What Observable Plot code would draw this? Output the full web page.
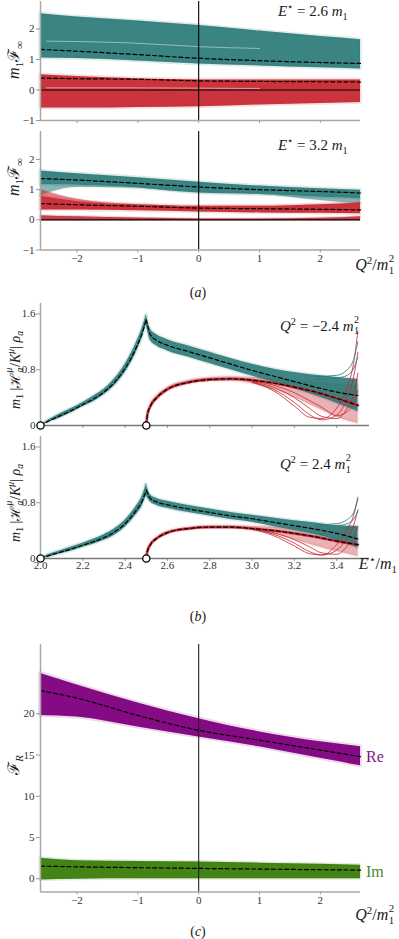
<!DOCTYPE html>
<html>
<head>
<meta charset="utf-8">
<script src="https://cdn.jsdelivr.net/npm/d3@7"></script>
<script src="https://cdn.jsdelivr.net/npm/@observablehq/plot@0.6"></script>
<style>
html,body{margin:0;padding:0;background:#fff;}
#root{position:relative;width:399px;height:939px;overflow:hidden;font-family:"Liberation Serif","DejaVu Serif",serif;color:#1a1a1a;}
.p{position:absolute;left:0;}
.p svg{display:block;overflow:visible;}
.p svg, .p svg text{font-family:"Liberation Serif","DejaVu Serif",serif !important;}
.t{position:absolute;white-space:nowrap;line-height:1;font-family:"Liberation Serif","DejaVu Serif",serif;}
.rot{transform:translate(-50%,-50%) rotate(-90deg);}
.ctr{transform:translate(-50%,-50%);}
sub,sup{font-size:0.68em;line-height:0;}
.ss{display:inline-block;position:relative;width:0.42em;height:1em;vertical-align:baseline;}
.ss .up,.ss .dn{position:absolute;left:0.04em;font-size:0.68em;line-height:1;}
.ss .up{top:-0.1em;}
.ss .dn{top:1.05em;}
[aria-label="x-axis tick"],[aria-label="y-axis tick"]{stroke:#9a9a9a;}
[aria-label="x-axis tick label"],[aria-label="y-axis tick label"]{fill:#333;}
</style>
</head>
<body>
<div id="root"></div>
<script>
// ---------------- DATA ----------------
// panel (a): x grid in Q^2/m1^2
const qGrid = [-2.6, -2, -1, 0, 1, 2, 2.66];
const qTicks = [-2, -1, 0, 1, 2];
// E* = 2.6 m1
const a1TealHi  = [2.50, 2.39, 2.26, 2.11, 1.93, 1.75, 1.65];
const a1TealLo  = [1.05, 1.03, 0.95, 0.85, 0.79, 0.73, 0.69];
const a1TealMid = [1.33, 1.27, 1.16, 1.04, 0.96, 0.90, 0.87];
const a1RedHi   = [0.50, 0.44, 0.37, 0.33, 0.33, 0.33, 0.33];
const a1RedLo   = [-0.59, -0.59, -0.57, -0.55, -0.49, -0.44, -0.41];
const a1RedMid  = [0.39, 0.37, 0.35, 0.30, 0.28, 0.27, 0.26];
const a1GapX    = [-2.5, -1.2, 0, 1];
const a1GapTeal = [1.60, 1.55, 1.42, 1.36];
const a1GapRed  = [0.07, 0.07, 0.06, 0.05];
// E* = 3.2 m1
const a2TealHi    = [1.62, 1.53, 1.40, 1.25, 1.12, 1.03, 0.98];
const a2TealLo    = [1.17, 1.15, 1.06, 0.89, 0.84, 0.75, 0.70];
const a2TealFanLo = [0.80, 1.08, 1.06, 0.89, 0.84, 0.64, 0.53];
const a2TealMid   = [1.37, 1.32, 1.21, 1.09, 1.00, 0.94, 0.89];
const a2RedHi     = [0.78, 0.61, 0.50, 0.45, 0.45, 0.50, 0.56];
const a2RedFanHi  = [1.00, 0.68, 0.50, 0.45, 0.45, 0.50, 0.56];
const a2RedLo     = [0.33, 0.33, 0.30, 0.26, 0.23, 0.22, 0.20];
const a2RedMid    = [0.54, 0.50, 0.45, 0.39, 0.37, 0.35, 0.33];
const a2RedLowHi  = [0.14, 0.10, 0.06, 0.03, 0.03, 0.05, 0.10];
const a2RedLowLo  = [-0.01, -0.01, -0.01, -0.01, -0.01, -0.01, -0.01];

// panel (b): x grid in E*/m1
const eTeal = [2.0, 2.05, 2.1, 2.15, 2.2, 2.25, 2.3, 2.35, 2.4, 2.45, 2.48, 2.5, 2.52, 2.55, 2.6, 2.7, 2.8, 2.9, 3.0, 3.1, 3.2, 3.3, 3.4, 3.5];
const eRed  = [2.5, 2.505, 2.52, 2.55, 2.6, 2.7, 2.8, 2.9, 3.0, 3.1, 3.2, 3.3, 3.4, 3.5];
const eTicks = [2.0, 2.2, 2.4, 2.6, 2.8, 3.0, 3.2, 3.4];
const thresholds = [2.0, 2.5];
// Q^2 = -2.4 m1^2
const b1TealMid = [0, 0.08, 0.15, 0.22, 0.30, 0.38, 0.48, 0.62, 0.82, 1.10, 1.32, 1.52, 1.30, 1.22, 1.15, 1.06, 0.97, 0.88, 0.79, 0.71, 0.63, 0.55, 0.48, 0.43];
const b1TealHi  = [0, 0.10, 0.18, 0.25, 0.33, 0.42, 0.52, 0.67, 0.88, 1.17, 1.39, 1.58, 1.38, 1.30, 1.23, 1.14, 1.05, 0.96, 0.88, 0.81, 0.76, 0.72, 0.69, 0.66];
const b1TealLo  = [0, 0.06, 0.12, 0.19, 0.27, 0.34, 0.44, 0.57, 0.76, 1.03, 1.25, 1.45, 1.22, 1.14, 1.07, 0.98, 0.89, 0.80, 0.71, 0.62, 0.53, 0.43, 0.32, 0.20];
const b1RedMid  = [0, 0.15, 0.28, 0.40, 0.52, 0.62, 0.66, 0.67, 0.65, 0.61, 0.55, 0.48, 0.39, 0.29];
const b1RedHi   = [0, 0.17, 0.31, 0.43, 0.55, 0.65, 0.69, 0.70, 0.69, 0.67, 0.65, 0.62, 0.60, 0.58];
const b1RedLo   = [0, 0.13, 0.25, 0.37, 0.49, 0.59, 0.63, 0.64, 0.60, 0.52, 0.40, 0.26, 0.12, 0.03];
const eOut = [3.0, 3.1, 3.2, 3.27, 3.33, 3.4, 3.45, 3.48, 3.5];
const b1RedOut1 = [0.62, 0.50, 0.28, 0.12, 0.10, 0.25, 0.55, 0.90, 1.35];
const b1RedOut2 = [0.62, 0.52, 0.33, 0.16, 0.08, 0.15, 0.40, 0.70, 1.05];
const b1RedOut3 = [0.63, 0.55, 0.40, 0.25, 0.13, 0.10, 0.25, 0.45, 0.75];
const b1RedOut4 = [0.64, 0.58, 0.47, 0.36, 0.26, 0.14, 0.20, 0.32, 0.50];
const eOutT = [3.3, 3.4, 3.45, 3.48, 3.5];
const b1TealOut1 = [0.70, 0.72, 0.80, 0.95, 1.20];
const b1TealOut2 = [0.66, 0.68, 0.72, 0.82, 0.98];
// Q^2 = 2.4 m1^2
const b2TealMid = [0, 0.05, 0.095, 0.14, 0.19, 0.24, 0.30, 0.38, 0.50, 0.68, 0.82, 0.98, 0.86, 0.81, 0.77, 0.71, 0.66, 0.61, 0.57, 0.52, 0.47, 0.42, 0.36, 0.28];
const b2TealHi  = [0, 0.07, 0.12, 0.17, 0.22, 0.275, 0.34, 0.425, 0.55, 0.74, 0.89, 1.06, 0.91, 0.86, 0.82, 0.76, 0.71, 0.66, 0.62, 0.58, 0.54, 0.51, 0.47, 0.46];
const b2TealLo  = [0, 0.03, 0.07, 0.11, 0.16, 0.205, 0.26, 0.335, 0.45, 0.62, 0.75, 0.90, 0.81, 0.76, 0.72, 0.66, 0.61, 0.56, 0.52, 0.46, 0.40, 0.34, 0.26, 0.15];
const b2RedMid  = [0, 0.10, 0.20, 0.29, 0.37, 0.43, 0.45, 0.45, 0.43, 0.40, 0.36, 0.31, 0.25, 0.20];
const b2RedHi   = [0, 0.12, 0.22, 0.31, 0.39, 0.45, 0.47, 0.47, 0.46, 0.45, 0.44, 0.43, 0.44, 0.46];
const b2RedLo   = [0, 0.08, 0.18, 0.27, 0.35, 0.41, 0.43, 0.43, 0.40, 0.35, 0.27, 0.18, 0.10, 0.03];
const b2RedOut1 = [0.42, 0.33, 0.18, 0.07, 0.05, 0.20, 0.42, 0.62, 0.88];
const b2RedOut2 = [0.42, 0.35, 0.22, 0.10, 0.05, 0.12, 0.30, 0.48, 0.70];
const b2RedOut3 = [0.43, 0.37, 0.27, 0.17, 0.08, 0.06, 0.18, 0.30, 0.45];
const b2TealOut1 = [0.48, 0.50, 0.56, 0.66, 0.85];
const b2TealOut2 = [0.46, 0.47, 0.50, 0.56, 0.68];

// panel (c): F_R vs Q^2
const cReHi  = [24.9, 23.5, 21.3, 19.4, 17.8, 16.6, 16.0];
const cReLo  = [19.8, 19.6, 18.4, 17.2, 16.0, 14.6, 13.7];
const cReMid = [22.8, 21.9, 19.8, 18.0, 16.8, 15.6, 14.8];
const cImHi  = [2.50, 2.20, 2.10, 2.05, 1.90, 1.75, 1.65];
const cImLo  = [-0.15, -0.05, 0, 0, 0, 0, 0];
const cImMid = [1.54, 1.45, 1.35, 1.26, 1.18, 1.10, 1.05];
const cTicks = [0, 5, 10, 15, 20];

// ---------------- STYLE ----------------
const TEAL = "#2b7b78", RED = "#c7252e", PURPLE = "#800080", GREEN = "#3b7d0c";
const AXIS = "#a8a8a8";
const FONT = '"Liberation Serif","DejaVu Serif",serif';
const minus = d => d < 0 ? "\u2212" + Math.abs(d) : String(d);

function rows(xs, cols, extra = {}) {
  return xs.map((x, i) => { const r = {x, ...extra}; for (const k in cols) r[k] = cols[k][i]; return r; });
}
function band(data, color, o = {}) {
  const curve = o.curve || "monotone-x";
  return [
    Plot.areaY(data, {x: "x", y1: "lo", y2: "hi", z: o.z, fill: color, fillOpacity: o.fade ?? 0.15,
      stroke: color, strokeOpacity: o.fade ?? 0.15, strokeWidth: o.edge ?? 3.5, curve}),
    Plot.areaY(data, {x: "x", y1: "lo", y2: "hi", z: o.z, fill: color, fillOpacity: o.op ?? 0.92, curve})
  ];
}
function dashed(data, o = {}) {
  return Plot.line(data, {x: "x", y: "mid", z: o.z, stroke: "#000", strokeWidth: 1.2,
    strokeDasharray: "4,2.6", curve: o.curve || "monotone-x"});
}
function sample(xs, ys, color, o = {}) {
  return Plot.line(xs.map((x, i) => ({x, y: ys[i]})), {x: "x", y: "y", stroke: color,
    strokeWidth: o.w ?? 0.9, strokeOpacity: o.op ?? 0.9, curve: "monotone-x"});
}
const base = {width: 399, style: {fontFamily: FONT, fontSize: "11px", color: "#333", background: "transparent", overflow: "visible"}};

const root = document.getElementById("root");
function place(node, top) {
  const d = document.createElement("div"); d.className = "p"; d.style.top = top + "px";
  d.appendChild(node); root.appendChild(d);
}
function txt(html, o) {
  const d = document.createElement("div"); d.className = "t"; d.innerHTML = html;
  d.style.fontSize = o.fs + "px";
  if (o.color) d.style.color = o.color;
  if (o.rot || o.ctr) {
    d.classList.add(o.rot ? "rot" : "ctr"); d.style.left = o.x + "px"; d.style.top = o.y + "px";
  } else {
    if (o.right != null) d.style.right = o.right + "px"; else d.style.left = o.x + "px";
    d.style.top = (o.base - 0.82 * o.fs) + "px";
  }
  root.appendChild(d);
}

// ---------------- PANEL (a) top ----------------
const a1T = rows(qGrid, {lo: a1TealLo, hi: a1TealHi, mid: a1TealMid});
const a1R = rows(qGrid, {lo: a1RedLo, hi: a1RedHi, mid: a1RedMid});
place(Plot.plot({...base, height: 126, marginTop: 1, marginBottom: 6, marginLeft: 40, marginRight: 39,
  x: {domain: [-2.6, 2.66], ticks: qTicks, tickSize: 3, tickFormat: () => "", label: null},
  y: {domain: [-1, 2.9], ticks: [-1, 0, 1, 2], tickSize: 4, tickPadding: 2, tickFormat: minus, label: null},
  marks: [
    ...band(a1T, TEAL), ...band(a1R, RED),
    sample(a1GapX, a1GapTeal, "#fff", {op: 0.45, w: 1}),
    sample(a1GapX, a1GapRed, "#fff", {op: 0.5, w: 1}),
    Plot.ruleY([0], {stroke: "#000", strokeWidth: 1.1}),
    Plot.ruleX([0], {stroke: "#000", strokeWidth: 1.1}),
    dashed(a1T), dashed(a1R),
    Plot.ruleX([-2.6], {stroke: AXIS, strokeWidth: 1.5}),
    Plot.ruleY([-1], {stroke: AXIS, strokeWidth: 1.3})
  ]}), 0);

// ---------------- PANEL (a) bottom ----------------
const a2T = rows(qGrid, {lo: a2TealLo, hi: a2TealHi, mid: a2TealMid});
const a2TF = rows(qGrid, {lo: a2TealFanLo, hi: a2TealLo});
const a2R = rows(qGrid, {lo: a2RedLo, hi: a2RedHi, mid: a2RedMid});
const a2RF = rows(qGrid, {lo: a2RedHi, hi: a2RedFanHi});
const a2RL = rows(qGrid, {lo: a2RedLowLo, hi: a2RedLowHi});
place(Plot.plot({...base, height: 140, marginTop: 1, marginBottom: 20.5, marginLeft: 40, marginRight: 39,
  x: {domain: [-2.6, 2.66], ticks: qTicks, tickSize: 3, tickPadding: 1, tickFormat: minus, label: null},
  y: {domain: [-1, 2.93], ticks: [-1, 0, 1, 2], tickSize: 4, tickPadding: 2, tickFormat: minus, label: null},
  marks: [
    ...band(a2TF, TEAL, {op: 0.5, fade: 0.1, edge: 2}),
    ...band(a2T, TEAL),
    ...band(a2RF, RED, {op: 0.5, fade: 0.1, edge: 2}),
    ...band(a2R, RED),
    ...band(a2RL, RED, {op: 0.85, fade: 0.2, edge: 2}),
    Plot.ruleY([0], {stroke: "#000", strokeWidth: 1.2}),
    Plot.ruleX([0], {stroke: "#000", strokeWidth: 1.1}),
    dashed(a2T), dashed(a2R),
    Plot.ruleX([-2.6], {stroke: AXIS, strokeWidth: 1.5}),
    Plot.ruleY([-1], {stroke: AXIS, strokeWidth: 1.3})
  ]}), 130);

// ---------------- PANEL (b) ----------------
function tealRows(lo, hi, mid) {
  const all = rows(eTeal, {lo, hi, mid});
  return all.filter(r => r.x <= 2.5).map(r => ({...r, seg: "rise"}))
    .concat(all.filter(r => r.x >= 2.5).map(r => ({...r, seg: "fall"})));
}
function panelB(tealD, redD, redOuts, tealOuts, showLabels, height, marginBottom) {
  return Plot.plot({...base, height, marginTop: 3, marginBottom, marginLeft: 40, marginRight: 30,
    x: {domain: [2.0, 3.555], ticks: eTicks, tickSize: 3, tickPadding: 0,
        tickFormat: showLabels ? (d => d.toFixed(1)) : (() => ""), label: null},
    y: {domain: [0, 1.75], ticks: [0, 0.8, 1.6], tickSize: 4, tickPadding: 1,
        tickFormat: d => d === 0 ? "0" : d.toFixed(1), label: null},
    marks: [
      ...band(redD, RED, {op: 0.3, fade: 0.08, edge: 3}),
      ...band(tealD, TEAL, {z: "seg", op: 0.9, fade: 0.15, edge: 3}),
      Plot.line(redD, {x: "x", y: "mid", stroke: RED, strokeWidth: 2.8, strokeOpacity: 0.85, curve: "monotone-x"}),
      ...redOuts.map(ys => sample(eOut, ys, RED, {w: 0.9, op: 0.9})),
      ...tealOuts.map(ys => sample(eOutT, ys, TEAL, {w: 0.9, op: 0.9})),
      dashed(tealD, {z: "seg"}), dashed(redD),
      Plot.ruleX([2.0], {stroke: AXIS, strokeWidth: 1.5}),
      Plot.ruleY([0], {stroke: "#777", strokeWidth: 1.3}),
      Plot.dot(thresholds, {x: d => d, y: 0, r: 3.6, fill: "#fff", stroke: "#000", strokeWidth: 1.3})
    ]});
}
place(panelB(tealRows(b1TealLo, b1TealHi, b1TealMid), rows(eRed, {lo: b1RedLo, hi: b1RedHi, mid: b1RedMid}),
  [b1RedOut1, b1RedOut2, b1RedOut3, b1RedOut4], [b1TealOut1, b1TealOut2], false, 130, 5), 300);
place(panelB(tealRows(b2TealLo, b2TealHi, b2TealMid), rows(eRed, {lo: b2RedLo, hi: b2RedHi, mid: b2RedMid}),
  [b2RedOut1, b2RedOut2, b2RedOut3], [b2TealOut1, b2TealOut2], true, 145, 20), 433);

// ---------------- PANEL (c) ----------------
const cRe = rows(qGrid, {lo: cReLo, hi: cReHi, mid: cReMid});
const cIm = rows(qGrid, {lo: cImLo, hi: cImHi, mid: cImMid});
place(Plot.plot({...base, height: 270, marginTop: 2, marginBottom: 20.5, marginLeft: 40, marginRight: 39,
  x: {domain: [-2.6, 2.66], ticks: qTicks, tickSize: 3, tickPadding: 1, tickFormat: minus, label: null},
  y: {domain: [-1.6, 28.4], ticks: cTicks, tickSize: 4, tickPadding: 2, tickFormat: minus, label: null},
  marks: [
    ...band(cRe, PURPLE, {op: 0.95, fade: 0.15, edge: 4}),
    ...band(cIm, GREEN, {op: 0.95, fade: 0.15, edge: 3}),
    Plot.ruleX([0], {stroke: "#222", strokeWidth: 1.1}),
    dashed(cRe), dashed(cIm),
    Plot.ruleX([-2.6], {stroke: AXIS, strokeWidth: 1.5}),
    Plot.ruleY([-1.6], {stroke: AXIS, strokeWidth: 1.3})
  ]}), 642);

// ---------------- TEXT ----------------
const ss = (a, b) => `<span class="ss"><span class="up">${a}</span><span class="dn">${b}</span></span>`;
const aY = '<i>m</i><sub>1</sub>ℱ<sub>∞</sub>';
const bY = `<i>m</i><sub>1</sub> |ℋ${ss("<i>μ</i>", "<i>a</i>")}/<i>K</i><sup><i>μ</i></sup>| <i>ρ</i><sub><i>a</i></sub>`;
const qX = `<i>Q</i><sup>2</sup>/<i>m</i>${ss("2", "1")}`;
txt('<i>E</i><sup>⋆</sup> = 2.6 <i>m</i><sub>1</sub>', {x: 278, base: 16.7, fs: 15});
txt('<i>E</i><sup>⋆</sup> = 3.2 <i>m</i><sub>1</sub>', {x: 278, base: 150.7, fs: 15});
txt(`<i>Q</i><sup>2</sup> = −2.4 <i>m</i>${ss("2", "1")}`, {x: 280, base: 328, fs: 15});
txt(`<i>Q</i><sup>2</sup> = 2.4 <i>m</i>${ss("2", "1")}`, {x: 280, base: 466.7, fs: 15});
txt(aY, {rot: true, x: 14, y: 60, fs: 16});
txt(aY, {rot: true, x: 14, y: 177, fs: 16});
txt(bY, {rot: true, x: 14, y: 370, fs: 14});
txt(bY, {rot: true, x: 14, y: 503, fs: 14});
txt('ℱ<sub><i>R</i></sub>', {rot: true, x: 14, y: 765, fs: 16});
txt(qX, {right: 4, base: 266.7, fs: 16});
txt('<i>E</i><sup>⋆</sup>/<i>m</i><sub>1</sub>', {right: 2, base: 569, fs: 16});
txt(qX, {right: 4, base: 916.7, fs: 16});
txt('(<i>a</i>)', {ctr: true, x: 198, y: 293, fs: 14});
txt('(<i>b</i>)', {ctr: true, x: 198, y: 617, fs: 14});
txt('(<i>c</i>)', {ctr: true, x: 198, y: 932, fs: 14});
txt('Re', {x: 366, base: 762, fs: 16, color: "#87108a"});
txt('Im', {x: 366, base: 877, fs: 16, color: "#4a8a2a"});
</script>
</body>
</html>
